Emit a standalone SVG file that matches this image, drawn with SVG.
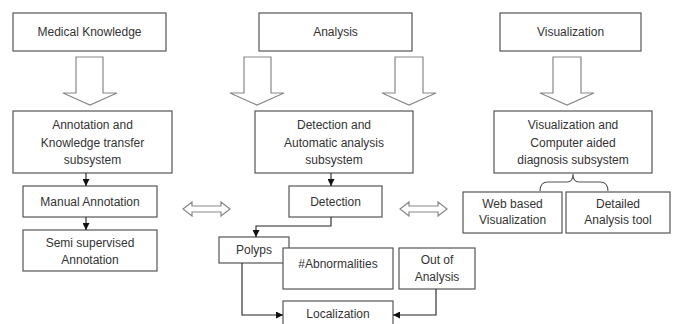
<svg xmlns="http://www.w3.org/2000/svg" width="675" height="324" viewBox="0 0 675 324">
<defs>
<marker id="ah" viewBox="0 0 10 10" refX="10" refY="5" markerWidth="7" markerHeight="7" markerUnits="userSpaceOnUse" orient="auto">
<path d="M0,0 L10,5 L0,10 z" fill="#111"/>
</marker>
<style>
.box{fill:#fff;stroke:#555;stroke-width:1.2}
.blk{fill:#fff;stroke:#888;stroke-width:1.2}
.t{font-family:"Liberation Sans",Arial,sans-serif;font-size:12px;fill:#333;text-anchor:middle;dominant-baseline:central}
.c{fill:none;stroke:#222;stroke-width:1.1}
.br{fill:none;stroke:#555;stroke-width:1.1}
</style>
</defs>
<rect width="675" height="324" fill="#fff"/>

<g id="medical-knowledge"><rect class="box" x="13" y="13" width="153" height="38"/><text class="t" x="89.5" y="32">Medical Knowledge</text></g>
<g id="analysis"><rect class="box" x="259" y="13" width="153" height="38"/><text class="t" x="335.5" y="32">Analysis</text></g>
<g id="visualization"><rect class="box" x="500" y="13" width="141" height="38"/><text class="t" x="570.5" y="32">Visualization</text></g>

<g id="block-arrows">
<path class="blk" d="M76,57 H103 V93 H117 L90,105 L63,93 H76 Z"/>
<path class="blk" d="M244,57 H271 V93 H284 L257,105 L230,93 H244 Z"/>
<path class="blk" d="M395,57 H423 V93 H436 L409,105 L382,93 H395 Z"/>
<path class="blk" d="M553,57 H581 V93 H594 L567,105 L540,93 H553 Z"/>
</g>

<g id="annotation-subsystem"><rect class="box" x="13" y="111" width="159" height="62"/><text class="t" x="92.5" y="125">Annotation and</text><text class="t" x="92.5" y="142.5">Knowledge transfer</text><text class="t" x="92.5" y="160">subsystem</text></g>
<g id="detection-subsystem"><rect class="box" x="255" y="111" width="158" height="62"/><text class="t" x="334" y="125">Detection and</text><text class="t" x="334" y="142.5">Automatic analysis</text><text class="t" x="334" y="160">subsystem</text></g>
<g id="visualization-subsystem"><rect class="box" x="494" y="111" width="158" height="62"/><text class="t" x="573" y="125">Visualization and</text><text class="t" x="573" y="142.5">Computer aided</text><text class="t" x="573" y="160">diagnosis subsystem</text></g>

<g id="manual-annotation"><rect class="box" x="23" y="186" width="134" height="31"/><text class="t" x="90" y="202">Manual Annotation</text></g>
<g id="semi-supervised"><rect class="box" x="23" y="230" width="134" height="41"/><text class="t" x="90" y="243">Semi supervised</text><text class="t" x="90" y="260">Annotation</text></g>
<g id="detection"><rect class="box" x="289" y="186" width="93" height="31"/><text class="t" x="335.5" y="202">Detection</text></g>
<g id="polyps"><rect class="box" x="219" y="237" width="70" height="26"/><text class="t" x="254" y="250">Polyps</text></g>
<g id="abnormalities"><rect class="box" x="283" y="248" width="110" height="41"/><text class="t" x="338" y="264">#Abnormalities</text></g>
<g id="out-of-analysis"><rect class="box" x="399" y="248" width="76" height="41"/><text class="t" x="437" y="260">Out of</text><text class="t" x="437" y="277">Analysis</text></g>
<g id="localization"><rect class="box" x="283" y="301" width="110" height="30"/><text class="t" x="338" y="314">Localization</text></g>
<g id="web-visualization"><rect class="box" x="463" y="192" width="99" height="41"/><text class="t" x="512.5" y="204">Web based</text><text class="t" x="512.5" y="220">Visualization</text></g>
<g id="detailed-analysis"><rect class="box" x="566" y="192" width="104" height="41"/><text class="t" x="618" y="204">Detailed</text><text class="t" x="618" y="220">Analysis tool</text></g>

<g id="connectors">
<line class="c" x1="86" y1="173" x2="86" y2="186" marker-end="url(#ah)"/>
<line class="c" x1="86" y1="217" x2="86" y2="230" marker-end="url(#ah)"/>
<line class="c" x1="331" y1="173" x2="331" y2="186" marker-end="url(#ah)"/>
<polyline class="c" points="331,217 331,226 256,226 256,237" marker-end="url(#ah)"/>
<polyline class="c" points="242,263 242,315 283,315" marker-end="url(#ah)"/>
<polyline class="c" points="436,289 436,315 393,315" marker-end="url(#ah)"/>
<path class="br" d="M540,191 Q540,182 548,182 H567 Q573,182 573,174 Q573,182 579,182 H600 Q608,182 608,191"/>
<path class="blk" d="M183,209 L192,202 V206 H221 V202 L230,209 L221,216 V212 H192 V216 Z"/>
<path class="blk" d="M400,209 L409,202 V206 H438 V202 L447,209 L438,216 V212 H409 V216 Z"/>
</g>
</svg>
